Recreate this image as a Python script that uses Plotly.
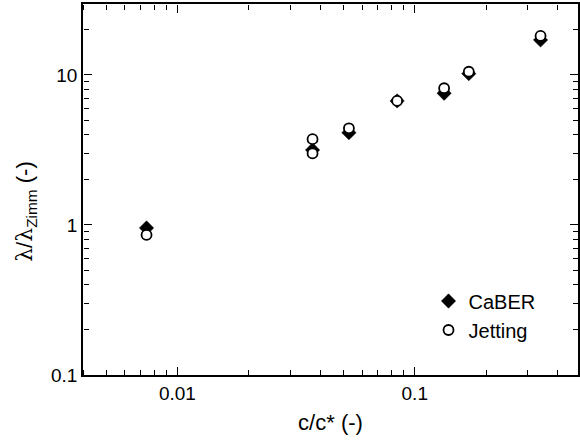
import plotly.graph_objects as go
import numpy as np

caber_x = [0.00741, 0.0371, 0.0528, 0.0843, 0.133, 0.169, 0.339]
caber_y = [0.955, 3.16, 4.12, 6.71, 7.55, 10.2, 17.1]
jet_x = [0.00741, 0.0371, 0.0371, 0.0528, 0.0843, 0.133, 0.169, 0.339]
jet_y = [0.858, 3.73, 3.0, 4.41, 6.71, 8.15, 10.5, 18.2]

FONT = "Liberation Sans, Arial, sans-serif"
XR = [np.log10(0.004), -0.312]
YR = [-1, np.log10(29.7)]

fig = go.Figure()
fig.add_trace(go.Scatter(
    x=caber_x, y=caber_y, mode="markers", name="CaBER",
    marker=dict(symbol="diamond", size=11, color="black",
                line=dict(color="black", width=0.5)),
))
fig.add_trace(go.Scatter(
    x=jet_x, y=jet_y, mode="markers", name="Jetting",
    marker=dict(symbol="circle", size=10, color="white",
                line=dict(color="black", width=1.8)),
))
# invisible helper traces so the tick-only overlay axes are drawn
for xa, ya in (("x2", "y2"), ("x3", "y3")):
    fig.add_trace(go.Scatter(
        x=caber_x, y=caber_y, xaxis=xa, yaxis=ya, mode="markers",
        marker=dict(size=1, opacity=0), showlegend=False, hoverinfo="skip",
    ))

main = dict(
    type="log", dtick=1, ticks="",
    showline=True, linecolor="black", linewidth=1.5, mirror=True,
    showgrid=False, zeroline=False,
    tickfont=dict(family=FONT, size=19, color="black"),
)
tick_only = dict(
    type="log", dtick=1, anchor="free",
    ticks="outside", ticklen=8, tickwidth=1.2, tickcolor="black",
    minor=dict(ticks="outside", ticklen=5, tickwidth=1, tickcolor="black", showgrid=False),
    showline=False, showgrid=False, zeroline=False, showticklabels=False,
)

fig.update_layout(
    xaxis=dict(range=XR,
               title=dict(text="c/c* (-)", font=dict(family=FONT, size=22, color="black"), standoff=12),
               **main),
    yaxis=dict(range=YR, **main),
    xaxis2=dict(range=XR, overlaying="x", side="top", position=0, **tick_only),
    xaxis3=dict(range=XR, overlaying="x", side="bottom", position=1, **tick_only),
    yaxis2=dict(range=YR, overlaying="y", side="right", position=0, **tick_only),
    yaxis3=dict(range=YR, overlaying="y", side="left", position=1, **tick_only),
)

fig.add_annotation(
    text="<span style='font-family:DejaVu Serif'>λ</span>/<span style='font-family:DejaVu Serif'>λ</span><sub>Zimm</sub> (-)",
    xref="paper", yref="paper", x=-0.115, y=0.44,
    xanchor="center", yanchor="middle", textangle=-90, showarrow=False,
    font=dict(family=FONT, size=22, color="black"),
)

fig.update_layout(
    width=580, height=446,
    margin=dict(l=83, r=0, t=4, b=71),
    plot_bgcolor="white", paper_bgcolor="white",
    showlegend=True,
    legend=dict(x=0.698, y=0.252, xanchor="left", yanchor="top",
                font=dict(family=FONT, size=20, color="black"),
                bgcolor="rgba(0,0,0,0)", tracegroupgap=0, itemwidth=30),
)

fig.write_html("out.html")
